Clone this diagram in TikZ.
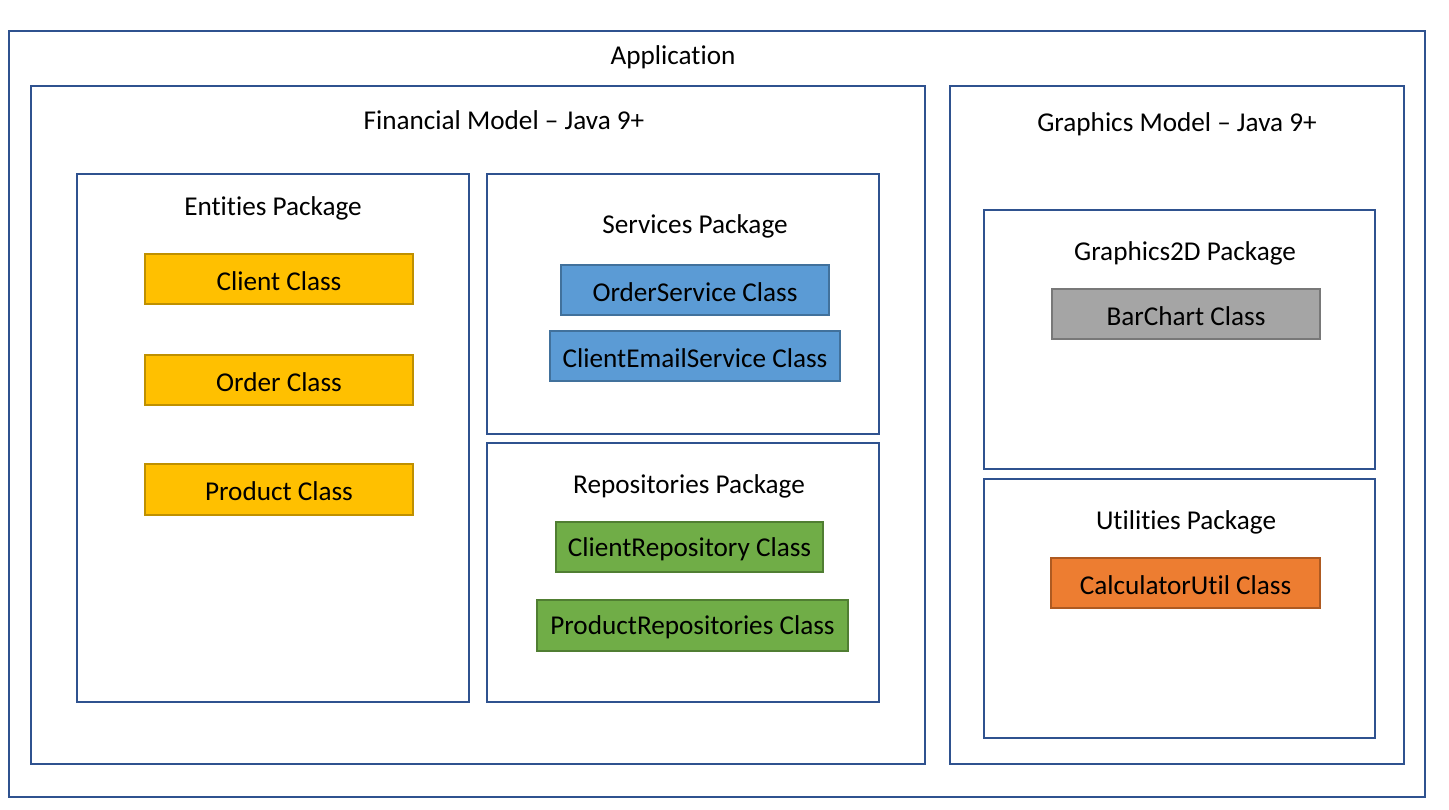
\documentclass[tikz,border=0pt]{standalone}
\usepackage{fontspec}
\setmainfont[Ligatures={NoCommon,NoRare,NoDiscretionary,NoContextual}]{Carlito}
\definecolor{frame}{HTML}{2F528F}
\definecolor{yelF}{HTML}{FFC000}\definecolor{yelD}{HTML}{BF9000}
\definecolor{bluF}{HTML}{5B9BD5}\definecolor{bluD}{HTML}{41719C}
\definecolor{grnF}{HTML}{70AD47}\definecolor{grnD}{HTML}{507E32}
\definecolor{gryF}{HTML}{A5A5A5}\definecolor{gryD}{HTML}{787878}
\definecolor{orgF}{HTML}{ED7D31}\definecolor{orgD}{HTML}{AE5A21}
\begin{document}
\begin{tikzpicture}[x=1pt,y=-1pt,
  txt/.style={font=\fontsize{27.2}{32}\selectfont, inner sep=0pt, yshift=-2pt},
  pkg/.style={draw=frame, line width=2pt, fill=white},
  cls/.style={draw=#1D, fill=#1F, line width=2pt, inner sep=0pt},
]
\useasboundingbox (0,0) rectangle (1449,810);
\fill[white] (0,0) rectangle (1449,810);
% containers
\draw[pkg] (9,31) rectangle (1425,797);
\node[txt] (app) at (673,55) {Application};
\draw[pkg] (31,86) rectangle (925,764);
\node[txt] (fin) at (504,118) {Financial Model \char"2013{} Java 9+};
\draw[pkg] (950,86) rectangle (1404,764);
\node[txt] (gfx) at (1177,122) {Graphics Model \char"2013{} Java 9+};
% packages
\draw[pkg] (77,174) rectangle (469,702);
\node[txt] (ent) at (273,206) {Entities Package};
\draw[pkg] (487,174) rectangle (879,434);
\node[txt] (srv) at (695,224) {Services Package};
\draw[pkg] (487,443) rectangle (879,702);
\node[txt] (rep) at (689,484) {Repositories Package};
\draw[pkg] (984,210) rectangle (1375,469);
\node[txt] (g2d) at (1185,251) {Graphics2D Package};
\draw[pkg] (984,479) rectangle (1375,738);
\node[txt] (utl) at (1186,520) {Utilities Package};
% classes
\draw[cls=yel] (145,254) rectangle (413,304) node[txt,midway] (client) {Client Class};
\draw[cls=yel] (145,355) rectangle (413,405) node[txt,midway] (order) {Order Class};
\draw[cls=yel] (145,464) rectangle (413,515) node[txt,midway] (product) {Product Class};
\draw[cls=blu] (561,265) rectangle (829,315) node[txt,midway] (os) {OrderService Class};
\draw[cls=blu] (550,331) rectangle (840,381) node[txt,midway] (ces) {ClientEmailService Class};
\draw[cls=grn] (556,522) rectangle (823,572) node[txt,midway] (cr) {ClientRepository Class};
\draw[cls=grn] (537,600) rectangle (848,651) node[txt,midway] (pr) {ProductRepositories Class};
\draw[cls=gry] (1052,289) rectangle (1320,339) node[txt,midway] (bc) {BarChart Class};
\draw[cls=org] (1051,558) rectangle (1320,608) node[txt,midway] (cu) {CalculatorUtil Class};
\end{tikzpicture}
\end{document}
